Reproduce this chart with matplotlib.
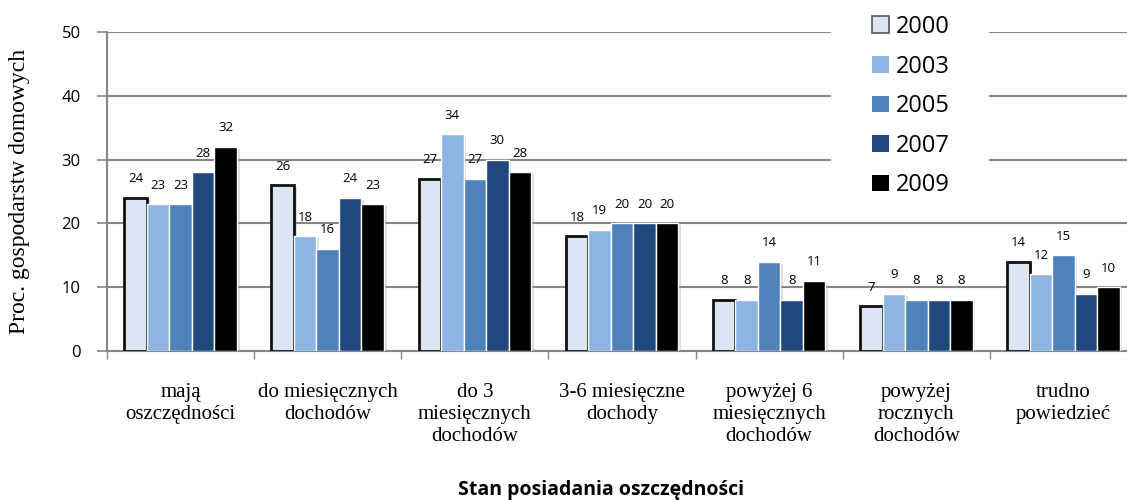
import matplotlib
matplotlib.use("Agg")
import matplotlib.pyplot as plt
import matplotlib.patheffects as pe
from matplotlib.patches import Rectangle
import numpy as np

categories = ["mają\noszczędności", "do miesięcznych\ndochodów", "do 3\nmiesięcznych\ndochodów",
              "3-6 miesięczne\ndochody", "powyżej 6\nmiesięcznych\ndochodów", "powyżej\nrocznych\ndochodów",
              "trudno\npowiedzieć"]
years = ["2000", "2003", "2005", "2007", "2009"]
v2000 = [24, 26, 27, 18, 8, 7, 14]
v2003 = [23, 18, 34, 19, 8, 9, 12]
v2005 = [23, 16, 27, 20, 14, 8, 15]
v2007 = [28, 24, 30, 20, 8, 8, 9]
v2009 = [32, 23, 28, 20, 11, 8, 10]
series = [v2000, v2003, v2005, v2007, v2009]
colors = ["#DCE6F2", "#8EB4E3", "#4F81BD", "#1F497D", "#000000"]
yticks = [0, 10, 20, 30, 40, 50]

W, H = 1127, 500
fig = plt.figure(figsize=(W / 100, H / 100), dpi=100)
ax = fig.add_axes([107 / W, 1 - 351 / H, (1137 - 107) / W, (351 - 32) / H])

x = np.arange(len(categories))
bw = 0.153
shadow = [pe.SimplePatchShadow(offset=(2, -1.5), shadow_rgbFace="#999999", alpha=0.35), pe.Normal()]
for j, (vals, col) in enumerate(zip(series, colors)):
    pos = x + (j - 2) * bw
    if j == 0:
        bars = ax.bar(pos, vals, bw, color=col, edgecolor="#111111", linewidth=2, zorder=3)
    else:
        bars = ax.bar(pos, vals, bw, color=col, edgecolor="white", linewidth=1, zorder=3)
    for b in bars:
        b.set_path_effects(shadow)
    for p, v in zip(pos, vals):
        ax.annotate(str(v), (p, v), xytext=(0, 9), textcoords="offset points",
                    ha="center", va="bottom", fontsize=9.5, family="Open Sans", zorder=5)

ax.set_xlim(-0.5, len(categories) - 0.5)
ax.set_ylim(0, 50)
ax.set_yticks(yticks)
ax.set_yticklabels([str(t) for t in yticks], family="Open Sans", fontsize=12)
ax.set_xticks(x)
ax.set_xticklabels(categories, family="Liberation Serif", fontsize=15, linespacing=1.2)
ax.set_xticks(np.arange(len(categories) + 1) - 0.5, minor=True)
ax.tick_params(axis="x", which="major", length=0, pad=23)
ax.tick_params(axis="x", which="minor", length=6, width=1, color="#868686")
ax.tick_params(axis="y", length=7, width=1.2, color="#868686", pad=12)
ax.yaxis.grid(True, color="#868686", linewidth=1.5)
ax.set_axisbelow(True)
for s in ["top", "right"]:
    ax.spines[s].set_visible(False)
for s in ["left", "bottom"]:
    ax.spines[s].set_color("#868686")
    ax.spines[s].set_linewidth(1.5)

# legend background
bg = Rectangle((831 / W, 1 - 208 / H), (989 - 831) / W, 208 / H, transform=fig.transFigure,
               facecolor="white", edgecolor="none", zorder=1.5)
ax.add_patch(bg)
bg.set_clip_on(False)

handles = []
for j, col in enumerate(colors):
    handles.append(Rectangle((0, 0), 1, 1, facecolor=col,
                             edgecolor="#555555" if j == 0 else "none",
                             linewidth=1.2 if j == 0 else 0))
leg = fig.legend(handles, years, loc="upper left", bbox_to_anchor=(872 / W, 1 - 15 / H),
                 frameon=False, prop={"family": "Open Sans", "size": 17},
                 handlelength=0.7, handleheight=0.7, handletextpad=0.3,
                 labelspacing=0.66, borderpad=0, borderaxespad=0)

fig.text(20 / W, 1 - 191 / H, "Proc. gospodarstw domowych", rotation=90, ha="center", va="center",
         family="Liberation Serif", fontsize=17)
fig.text(601 / W, 1 - 495 / H, "Stan posiadania oszczędności", ha="center", va="baseline",
         family="Open Sans", fontweight="bold", fontsize=14)

fig.savefig("out.png", dpi=100)
